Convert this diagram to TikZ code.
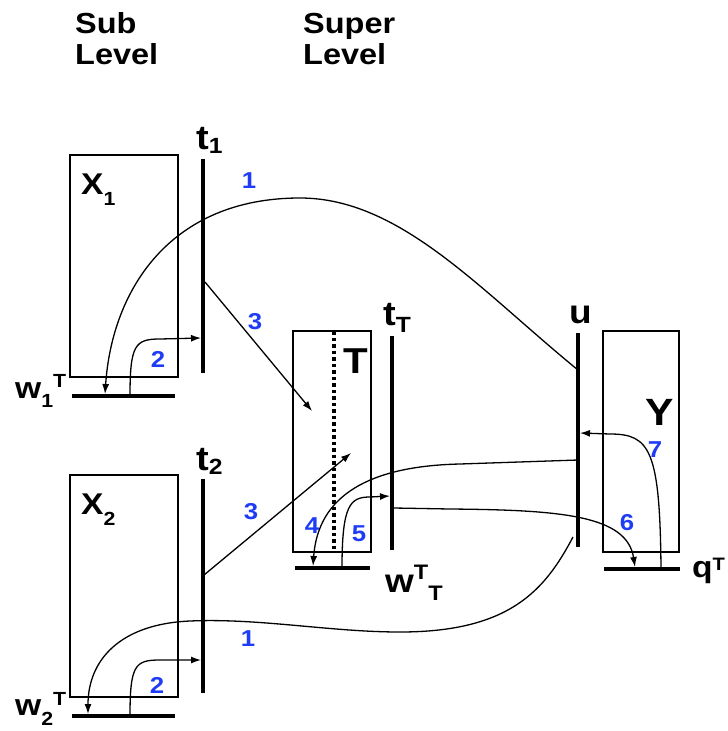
\documentclass[tikz,border=0pt]{standalone}
\usepackage{fontspec}
\setmainfont{Liberation Sans}[FakeStretch=1.12]
\usetikzlibrary{arrows.meta}
\definecolor{numblue}{RGB}{30,60,245}
\newcommand\fs[1]{\fontsize{#1}{#1}\selectfont}
\newcommand\lo[2]{\raisebox{-#1pt}{#2}}
\newcommand\hi[2]{\raisebox{#1pt}{#2}}
\begin{document}
\begin{tikzpicture}[x=1pt,y=-1pt,
  box/.style={draw, line width=2pt, inner sep=0pt, outer sep=0pt},
  bar/.style={line width=3.5pt},
  arr/.style={line width=1.3pt, -{Latex[length=10pt,width=7pt]}},
  lbl/.style={anchor=base west, inner sep=0pt, font=\bfseries},
  num/.style={anchor=center, inner sep=0pt, text=numblue, font=\bfseries\fs{23}}]
\useasboundingbox (0,0) rectangle (728,731);

% headings
\node[lbl] (hs1) at (75,33) {\fs{29}Sub};
\node[lbl] (hs2) at (75,64) {\fs{29}Level};
\node[lbl] (hp1) at (303,33) {\fs{29}Super};
\node[lbl] (hp2) at (303,64) {\fs{29}Level};

% boxes
\node[box, minimum width=108pt, minimum height=222pt] (X1) at (124,266) {};
\node[box, minimum width=108pt, minimum height=222pt] (X2) at (124,586) {};
\node[box, minimum width=78pt, minimum height=221pt] (T) at (332,441.5) {};
\node[box, minimum width=76pt, minimum height=221pt] (Y) at (641,441.5) {};

% box labels
\node[lbl] (lX1) at (81,194) {\fs{30}X\lo{11}{\fs{19}1}};
\node[lbl] (lX2) at (81,514) {\fs{30}X\lo{11}{\fs{19}2}};
\node[lbl] (lT) at (343,373) {\fs{36}T};
\node[lbl] (lY) at (645,425) {\fs{38}Y};

% bars
\coordinate (t1top) at (203,159); \coordinate (t1bot) at (203,373);
\coordinate (t2top) at (203,479); \coordinate (t2bot) at (203,693);
\coordinate (tTtop) at (392,336); \coordinate (tTbot) at (392,550);
\coordinate (utop) at (578,333); \coordinate (ubot) at (578,547);
\coordinate (w1l) at (72,396); \coordinate (w1r) at (175,396);
\coordinate (w2l) at (72,716); \coordinate (w2r) at (175,716);
\coordinate (wTl) at (295,568); \coordinate (wTr) at (370,568);
\coordinate (ql) at (604,569); \coordinate (qr) at (680,569);
\coordinate (dtop) at (334,331); \coordinate (dbot) at (334,552);
\draw[bar] (t1top) -- (t1bot);
\draw[bar] (t2top) -- (t2bot);
\draw[bar] (tTtop) -- (tTbot);
\draw[bar] (utop) -- (ubot);
\draw[bar] (w1l) -- (w1r);
\draw[bar] (w2l) -- (w2r);
\draw[bar] (wTl) -- (wTr);
\draw[bar] (ql) -- (qr);
\draw[line width=3.5pt, dash pattern=on 3.5pt off 3pt] (dtop) -- (dbot);

% bar labels
\node[lbl] (lt1) at (196,149) {\fs{34}t\lo{4}{\fs{22}1}};
\node[lbl] (lt2) at (196,470) {\fs{34}t\lo{4}{\fs{22}2}};
\node[lbl] (ltT) at (383,325) {\fs{34}t\lo{7}{\fs{22}T}};
\node[lbl] (lu) at (569,323) {\fs{33}u};
\node[lbl] (lw1) at (15,398) {\fs{30}w\lo{9}{\fs{19}1}\hi{11}{\fs{19}T}};
\node[lbl] (lw2) at (15,715) {\fs{30}w\lo{10}{\fs{19}2}\hi{10}{\fs{19}T}};
\node[lbl] (lwT) at (385,592) {\fs{33}w\hi{13}{\fs{21}T}\lo{8}{\fs{21}T}};
\node[lbl] (lq) at (692,577) {\fs{30}q\hi{7}{\fs{18}T}};

% connector end points
\coordinate (a1s) at (578,370); \coordinate (a1e) at (105,394);
\coordinate (a2s) at (130,396); \coordinate (a2e) at (201,338);
\coordinate (a3s) at (205,282); \coordinate (a3e) at (312,411);
\coordinate (b3s) at (204,575); \coordinate (b3e) at (351,453);
\coordinate (b1s) at (573,537); \coordinate (b1e) at (88,714);
\coordinate (b2s) at (130,716); \coordinate (b2e) at (201,660);
\coordinate (a4s) at (578,460); \coordinate (a4e) at (313,566);
\coordinate (a5s) at (342,568); \coordinate (a5e) at (390,496);
\coordinate (a6s) at (394,508); \coordinate (a6e) at (635,567);
\coordinate (a7s) at (661,569); \coordinate (a7e) at (580,433);

% connectors
\draw[arr] (a1s) .. controls (480,290) and (400,198) .. (300,198)
  .. controls (170,198) and (112,290) .. (a1e);
\draw[arr] (a2s) .. controls (130,345) and (135,339) .. (160,339) -- (a2e);
\draw[arr] (a3s) -- (a3e);
\draw[arr] (b3s) -- (b3e);
\draw[arr] (b1s) .. controls (545,590) and (510,632) .. (400,632)
  .. controls (330,632) and (260,618) .. (190,621)
  .. controls (120,624) and (88,660) .. (b1e);
\draw[arr] (b2s) .. controls (130,665) and (135,660) .. (160,660) -- (b2e);
\draw[arr] (a4s) -- (460,464) .. controls (370,466) and (318,495) .. (a4e);
\draw[arr] (a5s) .. controls (342,505) and (350,497) .. (370,497) -- (a5e);
\draw[arr] (a6s) -- (450,509) .. controls (560,510) and (627,515) .. (a6e);
\draw[arr] (a7s) .. controls (660,450) and (650,434) .. (610,434) -- (a7e);

% numbers
\node[num] (n1a) at (249,181) {1};
\node[num] (n2a) at (158,359) {2};
\node[num] (n3a) at (255,322) {3};
\node[num] (n3b) at (251,512) {3};
\node[num] (n1b) at (248,639) {1};
\node[num] (n2b) at (157,685) {2};
\node[num] (n4) at (312,526) {4};
\node[num] (n5) at (359,534) {5};
\node[num] (n6) at (627,523) {6};
\node[num] (n7) at (655,450) {7};
\end{tikzpicture}
\end{document}
